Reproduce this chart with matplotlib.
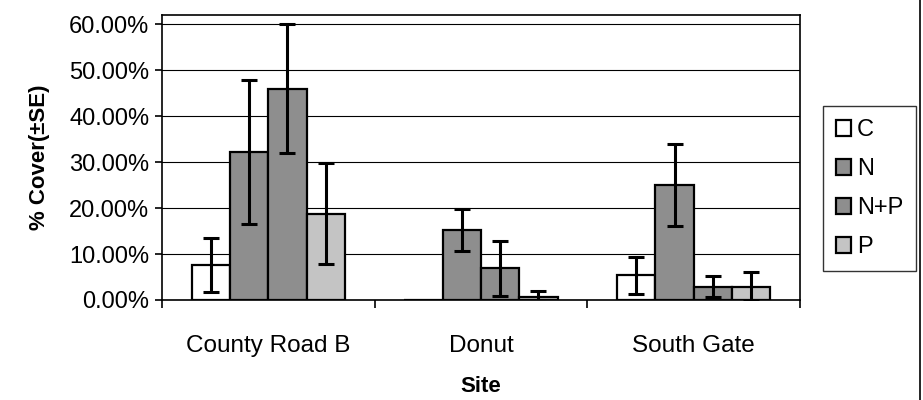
import numpy as np
import matplotlib
matplotlib.use('Agg')
import matplotlib.pyplot as plt
from matplotlib.lines import Line2D
from matplotlib.ticker import FuncFormatter

sites = ['County Road B', 'Donut', 'South Gate']
treatments = ['C', 'N', 'N+P', 'P']
cover = {
    'C':   [0.076, 0.000, 0.054],
    'N':   [0.322, 0.152, 0.250],
    'N+P': [0.460, 0.069, 0.029],
    'P':   [0.188, 0.007, 0.029],
}
se = {
    'C':   [0.059, 0.000, 0.040],
    'N':   [0.156, 0.045, 0.090],
    'N+P': [0.140, 0.060, 0.023],
    'P':   [0.110, 0.012, 0.032],
}
colors = {'C': 'white', 'N': '#8e8e8e', 'N+P': '#8e8e8e', 'P': '#c4c4c4'}

plt.rcParams['font.family'] = ['Liberation Sans', 'DejaVu Sans']
fig = plt.figure(figsize=(9.23, 4.0), dpi=100)
ax = fig.add_axes([162 / 923, 100 / 400, 638 / 923, 285 / 400])

x = np.arange(len(sites))
w = 0.18
for i, t in enumerate(treatments):
    pos = x + (i - 1.5) * w
    ax.bar(pos, cover[t], width=w, color=colors[t], edgecolor='black',
           linewidth=1.6, label=t, zorder=2)
    vals = np.array(cover[t])
    errs = np.array(se[t])
    keep = errs > 0
    ax.errorbar(pos[keep], vals[keep], yerr=errs[keep], fmt='none',
                ecolor='black', elinewidth=2.2, capsize=6, capthick=2.2,
                zorder=3)

ax.set_xlim(-0.5, 2.5)
ax.set_ylim(0, 0.62)
ax.set_yticks(np.arange(0, 0.61, 0.1))
ax.yaxis.set_major_formatter(FuncFormatter(lambda v, p: '{:.2f}%'.format(v * 100)))
ax.set_xticks(x)
ax.set_xticklabels(sites)
ax.set_xticks([-0.5, 0.5, 1.5, 2.5], minor=True)
ax.tick_params(axis='x', which='major', length=0, labelsize=17.5, pad=25)
ax.tick_params(axis='x', which='minor', length=6, width=1.2, direction='out')
ax.tick_params(axis='y', length=5, width=1.2, labelsize=17, pad=4)
ax.grid(axis='y', color='black', linewidth=0.8, zorder=0)
ax.set_axisbelow(True)
for s in ax.spines.values():
    s.set_linewidth(1.2)

ax.set_ylabel('% Cover(±SE)', fontsize=16, fontweight='bold', labelpad=14)
ax.set_xlabel('Site', fontsize=16, fontweight='bold', labelpad=14)

leg = ax.legend(loc='upper left', bbox_to_anchor=(823 / 923, 294 / 400),
                bbox_transform=fig.transFigure, fontsize=17, frameon=True,
                fancybox=False, edgecolor='black', handlelength=0.65,
                handleheight=0.65, handletextpad=0.25, labelspacing=0.72,
                borderpad=0.55, borderaxespad=0)
leg.get_frame().set_linewidth(1.0)

fig.add_artist(Line2D([0.997, 0.997], [0, 1], transform=fig.transFigure,
                      color='black', linewidth=1.2))

fig.savefig('out.png', dpi=100)
